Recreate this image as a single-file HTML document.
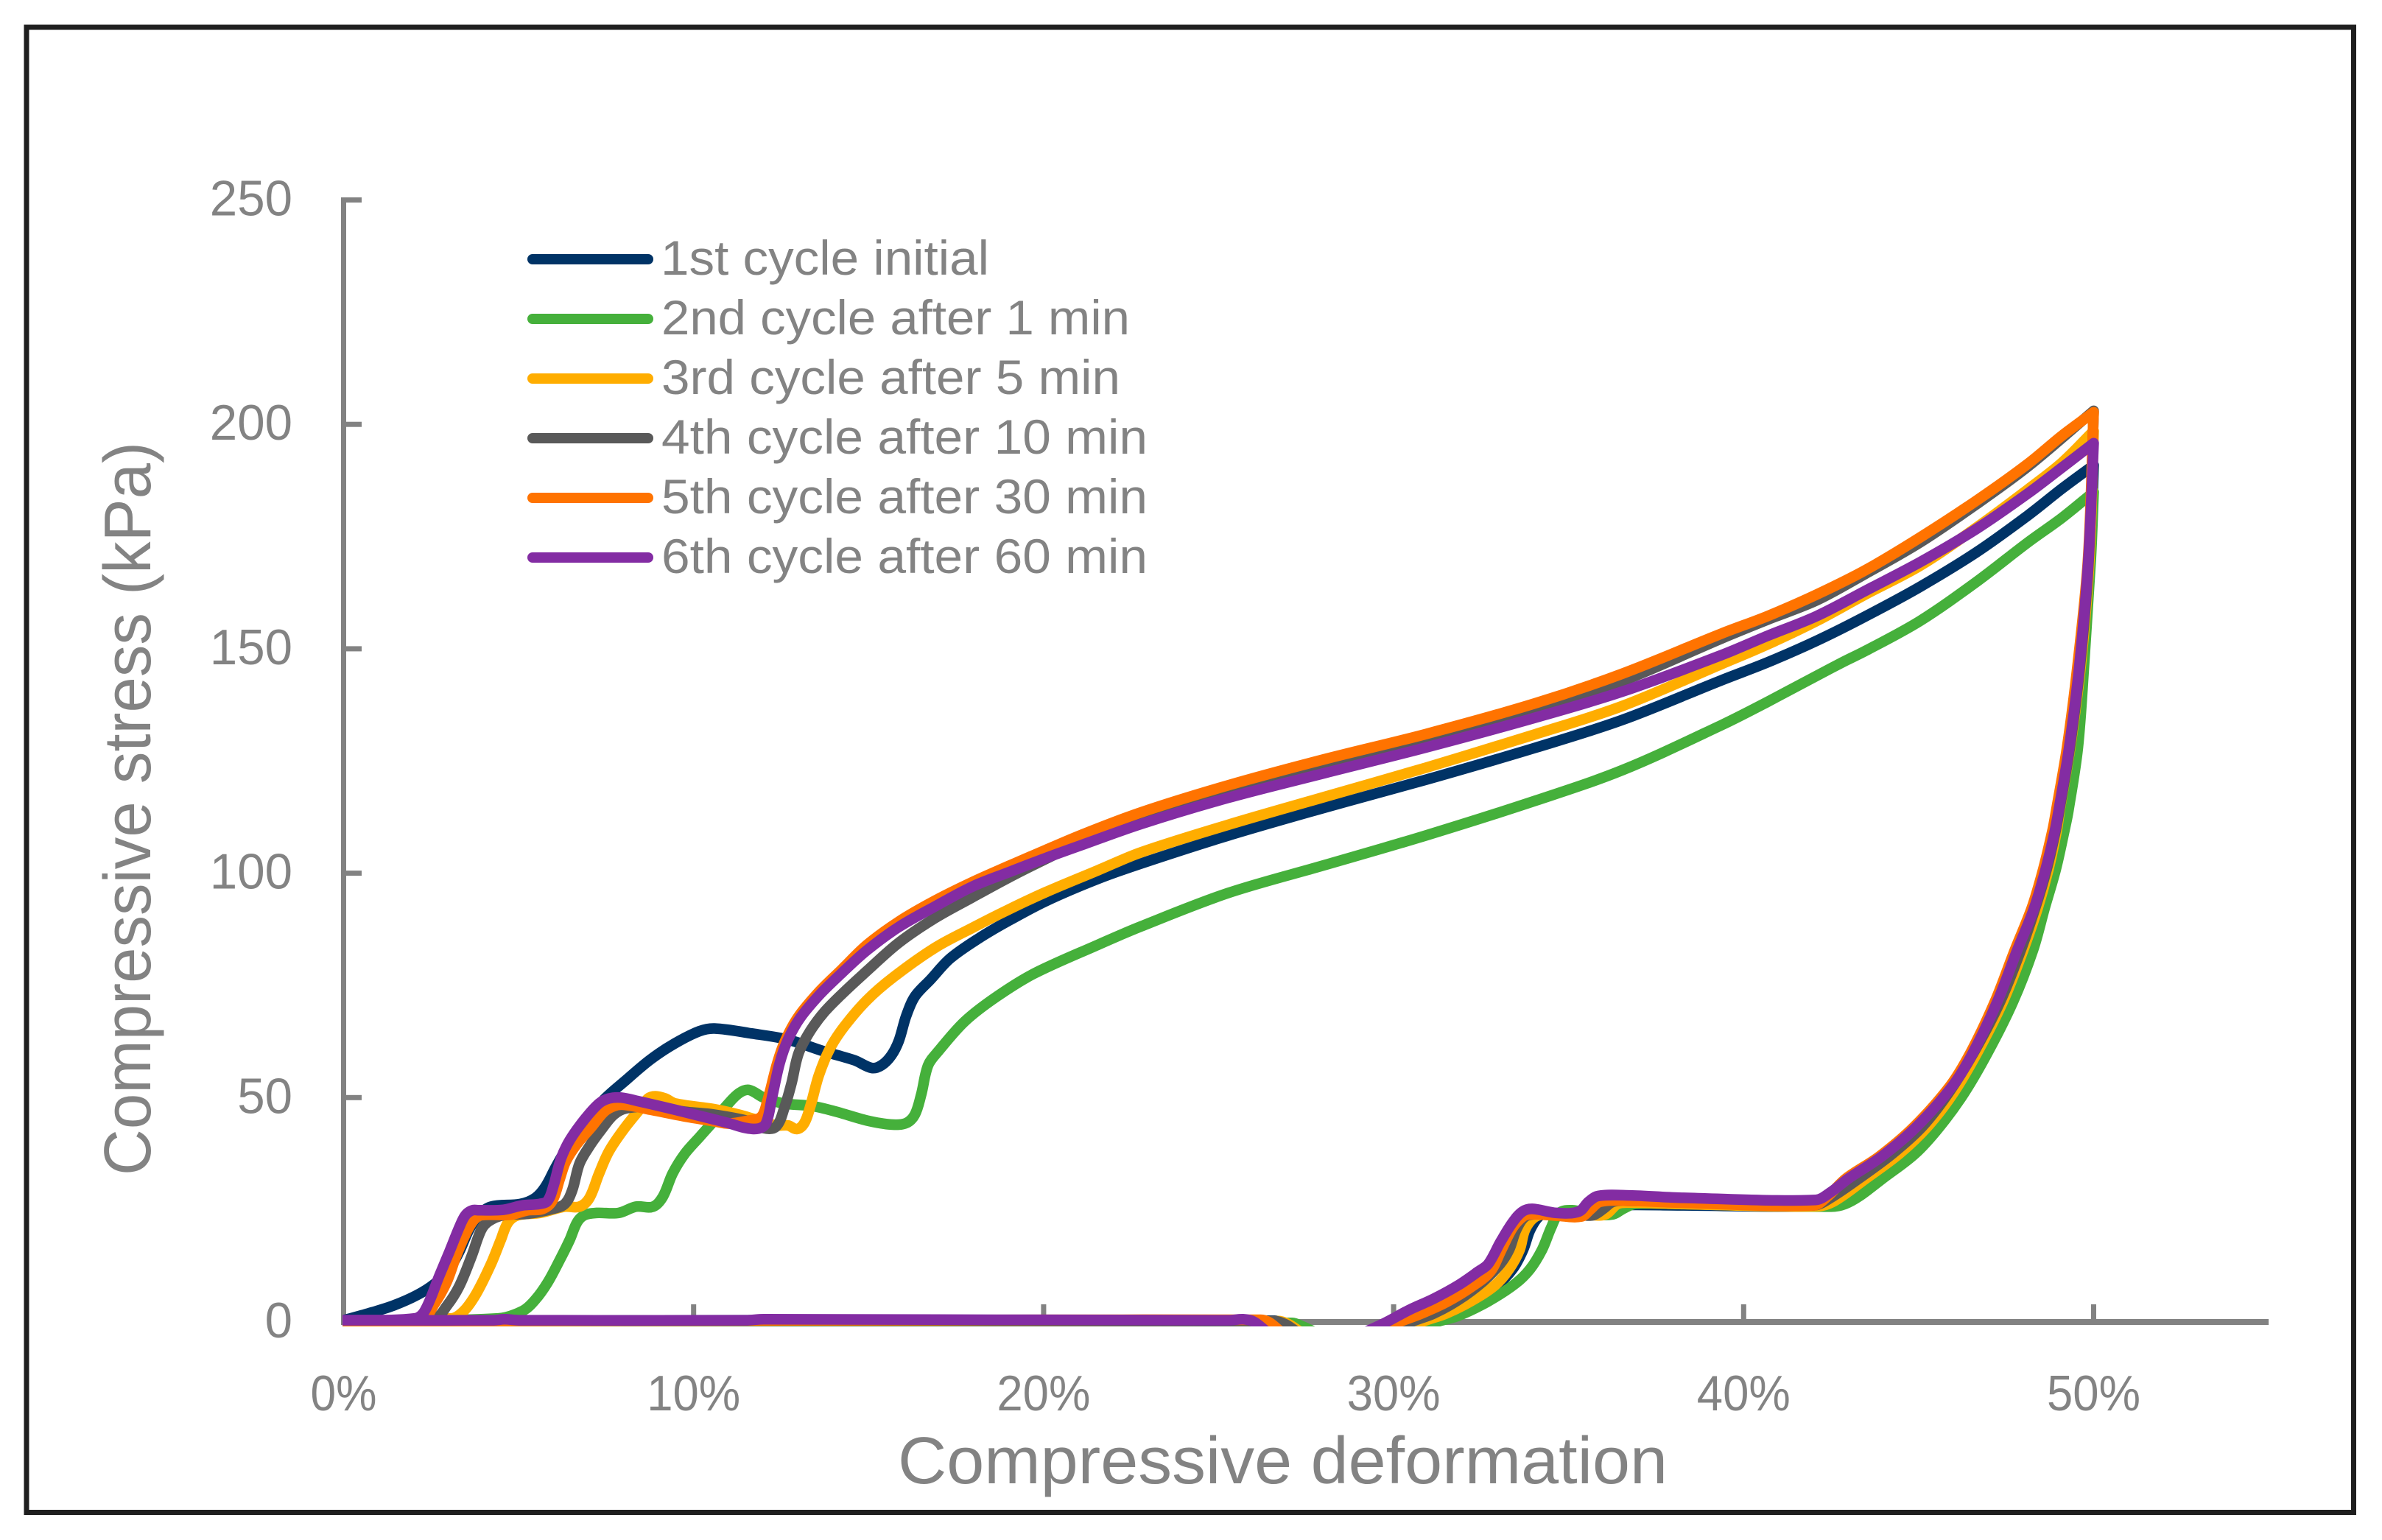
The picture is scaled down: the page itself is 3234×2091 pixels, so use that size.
<!DOCTYPE html>
<html lang="en">
<head>
<meta charset="utf-8">
<title>Compressive stress vs compressive deformation</title>
<style>
html,body{margin:0;padding:0;background:#fff;}
svg{display:block;}
text{font-family:"Liberation Sans",sans-serif;fill:#838383;}
</style>
</head>
<body>
<svg id="chart" xmlns="http://www.w3.org/2000/svg" width="3234" height="2091" viewBox="0 0 3234 2091">
  <rect x="0" y="0" width="3234" height="2091" fill="#ffffff"/>
  <rect x="36" y="37" width="3159.5" height="2016.5" fill="none" stroke="#1f1f1f" stroke-width="7"/>
  <defs>
    <clipPath id="plot-clip"><rect x="465" y="200" width="2640" height="1601"/></clipPath>
  </defs>
  <g id="axes"></g>
  <g id="series" clip-path="url(#plot-clip)"></g>

  <text transform="translate(204 1596) rotate(-90)" font-size="90" textLength="996" lengthAdjust="spacingAndGlyphs">Compressive stress (kPa)</text>
  <text x="1219" y="2014" font-size="90" textLength="1045" lengthAdjust="spacingAndGlyphs">Compressive deformation</text>

  <g>
    <g>
      <line x1="723" y1="352" x2="880" y2="352" stroke="#003366" stroke-width="14" stroke-linecap="round"/>
      <text x="897" y="373" font-size="66" textLength="446" lengthAdjust="spacingAndGlyphs">1st cycle initial</text>
    </g>
    <g>
      <line x1="723" y1="433" x2="880" y2="433" stroke="#45b03b" stroke-width="14" stroke-linecap="round"/>
      <text x="898" y="454" font-size="66" textLength="636" lengthAdjust="spacingAndGlyphs">2nd cycle after 1 min</text>
    </g>
    <g>
      <line x1="723" y1="514" x2="880" y2="514" stroke="#ffad00" stroke-width="14" stroke-linecap="round"/>
      <text x="898" y="535" font-size="66" textLength="623" lengthAdjust="spacingAndGlyphs">3rd cycle after 5 min</text>
    </g>
    <g>
      <line x1="723" y1="595" x2="880" y2="595" stroke="#595959" stroke-width="14" stroke-linecap="round"/>
      <text x="898" y="616" font-size="66" textLength="660" lengthAdjust="spacingAndGlyphs">4th cycle after 10 min</text>
    </g>
    <g>
      <line x1="723" y1="676" x2="880" y2="676" stroke="#ff7300" stroke-width="14" stroke-linecap="round"/>
      <text x="898" y="697" font-size="66" textLength="660" lengthAdjust="spacingAndGlyphs">5th cycle after 30 min</text>
    </g>
    <g>
      <line x1="723" y1="757" x2="880" y2="757" stroke="#832ca3" stroke-width="14" stroke-linecap="round"/>
      <text x="898" y="778" font-size="66" textLength="660" lengthAdjust="spacingAndGlyphs">6th cycle after 60 min</text>
    </g>
  </g>
</svg>
<script>
const xTickValues = [0, 10, 20, 30, 40, 50];
const xTickLabels = ['0%', '10%', '20%', '30%', '40%', '50%'];
const yTickValues = [0, 50, 100, 150, 200, 250];
const yTickLabels = ['0', '50', '100', '150', '200', '250'];

const cycle1Strain = [
  0,26.6,26.9,27.2,null,
  0,0.7,1.4,2.1,2.6,3.02,3.3,3.58,3.86,4.21,
  5.05,5.47,5.76,6.04,6.32,6.67,7.37,8.07,8.77,9.47,
  10.17,10.6,11.65,12.7,13.76,14.6,15.09,15.37,15.65,15.86,
  16.07,16.32,16.77,17.33,18.17,19,20.07,21.54,
  22.8,25.28,28.03,30.92,34.07,36.55,39.37,40.69,
  42.09,43.5,45.04,46.65,48.12,49.1,50,null,
  30.2,30.75,31.5,32.2,32.95,33.4,33.7,33.9,34.15,34.4,
  35.36,35.7,35.9,36.2,38.16,42.2,42.7,43.7,44.6,45.35,
  46.1,46.8,47.54,48.13,48.5,48.76,49,49.08,49.36,49.68,
  49.9,50];
const cycle1Stress = [
  0.3,0.3,-0.5,-2,null,
  0.4,1.9,3.6,6,8.5,11.8,15.6,20.5,23.8,25.7,
  26.3,27.6,30.1,34.2,38,41.9,49,53.9,58.5,62.1,
  64.8,65.4,64.3,62.9,60.2,58.3,56.6,57.2,59.4,62.6,
  68.1,72.5,76.3,81,85.6,89.4,93.8,98.7,
  102.2,108.4,114.6,120.8,128,134.2,143,147,
  151.8,157.3,163.8,171.5,179.7,185.7,190.9,null,
  -2.2,0,1.9,4.6,8.2,11.8,16.1,20.5,23.5,24.2,
  24,24,25.2,26,26,25.8,27,32,37.5,43.5,
  51,60.4,71.4,82.9,92.2,100.9,109.7,114,128,146.9,
  170,190.9];

const cycle2Strain = [
  0,27.1,27.4,27.68,null,
  0,4.42,5.12,5.47,5.83,6.18,6.46,6.67,6.88,7.23,
  7.86,8.35,8.84,9.12,9.4,9.75,10.18,10.6,10.95,11.3,
  11.58,12,12.56,13.4,14.1,14.95,15.65,16.07,16.32,16.5,
  16.7,17,17.75,18.66,19.72,21.54,
  22.8,25.28,28.03,30.92,34.07,36.55,39.37,40.69,
  42.8,43.5,45.04,46.65,48.12,49.1,50,null,
  30.65,31.15,31.85,32.7,33.47,33.9,34.24,34.5,34.73,35.1,
  35.7,36.27,36.55,36.9,38.16,42.5,42.9,43.3,43.98,44.9,
  45.6,46.3,47,47.7,48.27,48.6,48.92,49.17,49.28,49.55,
  49.73,49.92,50];
const cycle2Stress = [
  0.2,-0.2,-1,-2,null,
  0.2,0.8,2.5,4.9,8.8,13.9,18.3,22.2,23.8,24.3,
  24.3,25.7,25.7,27.9,33.1,37.5,41.3,45,48.3,51,
  51.7,50,48.7,48.1,46.8,44.9,44,44.3,46.2,50.6,
  57.2,60.4,67,72.5,77.6,84,
  88.2,95.6,101.8,108.4,116.2,123,133,138.2,
  146.9,149.6,156.2,164.9,173.7,179.2,184.9,null,
  -2.2,-0.2,1.4,4.6,8.5,11.8,16.1,21,24.3,24.9,
  24,24,25.2,26.3,26.3,25.7,26.3,28,32,37.5,
  43.5,51,60.4,71.4,82.9,92.2,100.9,109.7,114,128,
  146.9,170,184.9];

const cycle3Strain = [
  0,26.7,27,27.3,null,
  0,3.09,3.44,3.79,4.21,4.49,4.7,4.98,5.61,6.32,
  6.74,7.02,7.3,7.58,8,8.42,8.7,8.91,9.19,9.47,
  10.6,11.3,11.86,12.35,12.7,12.95,13.16,13.33,13.58,13.9,
  14.31,14.95,15.72,16.9,17.96,19,20.07,21.54,
  22.8,25.28,28.03,30.92,34.07,36.55,39.37,40.69,
  42.09,43.5,45.04,46.65,48.12,49.1,50,null,
  30.3,30.8,31.5,32.2,32.9,33.3,33.6,33.75,34,34.3,
  35.36,35.7,36.06,36.4,36.76,38.16,42.1,42.6,43.5,44.45,
  45.25,45.99,46.7,47.41,47.99,48.4,48.71,48.95,49.03,49.33,
  49.64,49.88,50];
const cycle3Stress = [
  0.2,0.2,-0.5,-2,null,
  0.2,0.8,2.5,6.3,12.9,18.3,22.2,23.8,24.3,25.7,
  25.7,27.6,33.1,38,42.9,47,49.8,50.3,49.8,48.7,
  47.4,46.2,44.9,43.8,43.8,43,44.3,47.9,55,61,
  65.9,71.7,76.9,83.4,87.8,91.9,95.8,100.6,
  104.7,110.8,117,123.5,131,137.3,146.6,151,
  156.2,162.2,168.5,177,185.5,191.5,198.5,null,
  -2.2,0,1.9,4.6,8.2,11.8,16.1,20.5,23.2,24,
  24,23.8,24,26.3,26.6,26.3,25.8,27,32,37.5,
  43.5,51,60.4,71.4,82.9,92.2,100.9,109.7,114,128,
  146.9,170,198.5];

const cycle4Strain = [
  0,26.6,26.9,27.2,null,
  0,2.6,2.95,3.3,3.65,3.93,4.14,4.56,5.26,5.97,
  6.32,6.53,6.74,7.02,7.37,7.72,8.07,8.77,9.82,10.6,
  11.65,11.99,12.35,12.6,12.8,13,13.33,13.75,14.31,14.95,
  15.86,16.9,17.96,19,20.07,21.1,
  22.8,25.28,28.03,30.92,34.07,36.55,39.37,40.69,
  42.09,43.5,45.04,46.65,48.12,50,null,
  30,30.5,31.15,31.85,32.55,33.04,33.3,33.5,33.76,34.1,
  34.66,35.36,35.7,35.99,36.27,36.76,38.16,42,42.45,43.3,
  44.25,45.1,45.85,46.6,47.33,47.92,48.33,48.66,48.92,49.02,
  49.32,49.62,49.86,50];
const cycle4Stress = [
  0.2,0.2,-0.5,-2,null,
  0.2,0.8,3.6,7.9,14.5,20.5,22.4,23.8,24.1,25.2,
  26.3,29.3,35.3,39.1,42.9,46.2,47.6,47.9,46.8,46.2,
  44.6,43.2,43.5,47.9,53.3,59.9,64.8,69.2,73.6,78.2,
  84.5,90,94.6,99,103.2,107,
  112.5,118.4,123.8,129.8,136.7,142.9,152.3,156.5,
  160.8,166.8,173.7,182.2,190.6,203,null,
  -2.2,0,1.9,4.9,9,12.9,16.1,20.5,23.5,24,
  23.8,23.8,23.8,25.2,26.8,27,26.8,26,27.5,32,
  37.5,43.5,51,60.4,71.4,82.9,92.2,100.9,109.7,114,
  128,146.9,170,203];

const cycle5Strain = [
  0,26.2,26.45,26.75,null,
  0,2.25,2.6,2.95,3.23,3.51,3.72,3.93,4.77,5.26,
  5.69,5.97,6.18,6.35,6.67,7.09,7.44,7.72,8,8.77,
  9.82,10.6,11,11.58,11.93,12.1,12.39,12.63,12.99,13.61,
  14.24,14.95,15.86,16.9,17.96,19,20.07,21.1,
  22.8,25.28,28.03,30.92,34.07,36.55,39.37,40.69,
  42.09,43.5,45.04,46.65,48.12,49.1,50,null,
  29.6,30.1,30.8,31.5,32.2,32.76,33.08,33.4,33.7,33.9,
  34.66,35.36,35.64,35.9,36.76,38.16,42,42.4,42.93,43.88,
  44.87,45.92,46.51,47.18,47.75,48.23,48.56,48.83,48.93,49.24,
  49.55,49.84,50];
const cycle5Stress = [
  0.15,0.5,-0.1,-2,null,
  0.2,0.8,4.1,9,15,20,22.7,23.8,23.9,24.9,
  25.2,27.1,32,35.8,39.7,43.5,46.8,48.1,48.4,47.3,
  45.7,44.7,44.2,44.9,45.7,49,57.7,62.9,68,73.8,
  78.6,84,89.2,93.9,98,101.6,105.2,108.6,
  113.6,119.6,125.4,131,137.9,144.5,153.4,157.3,
  162.1,167.6,174.8,183,191.2,197.5,202.7,null,
  -2.2,-0.2,1.9,4.4,7.7,11.2,16.1,21,23.5,24,
  23.7,23.5,25.2,26.8,27,26.6,26,28,32,36.9,
  43.5,52.8,60.4,71.4,82.9,92.2,100.9,109.7,114,128,
  146.9,170,202.7];

const cycle6Strain = [
  0,4.3,4.6,5,11.5,12,25.3,25.7,26,26.35,null,
  0,2.04,2.32,2.74,3.02,3.3,3.48,3.68,3.86,4.56,
  5.12,5.6,5.83,6,6.21,6.46,6.88,7.3,7.58,7.93,
  8.42,9.47,10.6,11,11.5,11.86,12.07,12.24,12.46,12.7,
  13.05,13.61,14.24,14.95,15.86,16.9,17.96,19,20.07,21.1,
  22.8,25.28,28.03,30.92,34.07,36.55,39.37,40.69,
  42.09,43.5,45.04,46.65,48.12,49.1,50,null,
  29.2,29.75,30.45,31.15,31.85,32.41,32.7,33.05,33.4,33.68,
  33.96,34.66,35.29,35.57,35.85,36.76,38.16,42.06,42.5,43,
  43.95,44.94,45.99,46.58,47.25,47.82,48.3,48.63,48.9,49,49.3,
  49.6,49.85,50];
const cycle6Stress = [
  0.4,0.4,0.6,0.4,0.4,0.6,0.4,0.6,0.1,-2,null,
  0.4,0.8,2.5,10.4,15.6,21,23.8,24.9,24.9,25,
  26,26.3,27,30.4,36.4,40.5,45.1,48.7,49.8,50,
  49.2,47.3,45.1,44.3,43.2,43.1,44.3,50,57.7,63,
  67.8,73,77.8,82.8,88,92.6,97,100.2,103.4,106.3,
  111,116.8,122.3,128,134.7,140.5,148.6,152.9,
  157.3,163,169.3,176.7,184.6,190.4,195.8,null,
  -2.2,-0.2,2.7,5.2,8.2,11.2,12.9,17.8,22.2,24.6,
  25.2,24.3,24.6,26.8,28.1,28.2,27.7,27.2,29,32,
  36.9,43.5,52.8,60.4,71.4,82.9,92.2,100.9,109.7,114,128,
  146.9,170,195.8];

const seriesColors = ['#003366', '#45b03b', '#ffad00', '#595959', '#ff7300', '#832ca3'];

const SVGNS = 'http://www.w3.org/2000/svg';
function xScale(v) { return 466.5 + v * 47.52; }
function yScale(v) { return 1795 - v * 6.094; }

const axesGroup = document.getElementById('axes');
const seriesGroup = document.getElementById('series');

function addRect(x, y, w, h, name) {
  const r = document.createElementNS(SVGNS, 'rect');
  r.setAttribute('x', x);
  r.setAttribute('y', y);
  r.setAttribute('width', w);
  r.setAttribute('height', h);
  r.setAttribute('fill', '#828282');
  
  
  axesGroup.appendChild(r);
}

function addLabel(x, y, anchor, str, len, name) {
  const t = document.createElementNS(SVGNS, 'text');
  t.setAttribute('x', x);
  t.setAttribute('y', y);
  t.setAttribute('font-size', '68');
  t.setAttribute('text-anchor', anchor);
  t.setAttribute('textLength', len);
  t.setAttribute('lengthAdjust', 'spacingAndGlyphs');
  t.textContent = str;
  
  
  axesGroup.appendChild(t);
}

addRect(463, 268, 7, 1527, 'y-axis-line');
addRect(463, 1791, xScale(55) - 463, 8, 'x-axis-line');

xTickValues.forEach(function (v, i) {
  addRect(xScale(v) - 3.5, 1771, 7, 20, 'x-axis-tick');
  const lab = xTickLabels[i];
  addLabel(xScale(v), 1915, 'middle', lab, lab.length === 2 ? 90 : 127, 'x-axis-tick-label');
});

yTickValues.forEach(function (v, i) {
  addRect(470, yScale(v) - 3.5, 21, 7, 'y-axis-tick');
  const lab = yTickLabels[i];
  addLabel(397, yScale(v) + 21, 'end', lab, lab.length * 37.4, 'y-axis-tick-label');
});

function smoothPath(pts) {
  let d = 'M' + pts[0][0].toFixed(1) + ' ' + pts[0][1].toFixed(1);
  function tangent(i) {
    const a = pts[Math.max(0, i - 1)];
    const b = pts[Math.min(pts.length - 1, i + 1)];
    const dx = b[0] - a[0];
    const dy = b[1] - a[1];
    const m = Math.hypot(dx, dy) || 1;
    return [dx / m, dy / m];
  }
  for (let i = 0; i < pts.length - 1; i++) {
    const p = pts[i];
    const q = pts[i + 1];
    const len = Math.hypot(q[0] - p[0], q[1] - p[1]) / 3;
    const t0 = tangent(i);
    const t1 = tangent(i + 1);
    d += 'C' + (p[0] + t0[0] * len).toFixed(1) + ' ' + (p[1] + t0[1] * len).toFixed(1) + ' ' +
      (q[0] - t1[0] * len).toFixed(1) + ' ' + (q[1] - t1[1] * len).toFixed(1) + ' ' +
      q[0].toFixed(1) + ' ' + q[1].toFixed(1);
  }
  return d;
}

function drawSeries(strain, stress, color, name) {
  let d = '';
  let run = [];
  for (let i = 0; i <= strain.length; i++) {
    if (i === strain.length || strain[i] === null) {
      if (run.length > 1) d += smoothPath(run);
      run = [];
    } else {
      run.push([xScale(strain[i]), yScale(stress[i])]);
    }
  }
  const p = document.createElementNS(SVGNS, 'path');
  p.setAttribute('d', d);
  p.setAttribute('fill', 'none');
  p.setAttribute('stroke', color);
  p.setAttribute('stroke-width', '14.5');
  p.setAttribute('stroke-linejoin', 'round');
  p.setAttribute('stroke-linecap', 'round');
  
  
  seriesGroup.appendChild(p);
}

drawSeries(cycle1Strain, cycle1Stress, seriesColors[0], 'series-1st-cycle');
drawSeries(cycle2Strain, cycle2Stress, seriesColors[1], 'series-2nd-cycle');
drawSeries(cycle3Strain, cycle3Stress, seriesColors[2], 'series-3rd-cycle');
drawSeries(cycle4Strain, cycle4Stress, seriesColors[3], 'series-4th-cycle');
drawSeries(cycle5Strain, cycle5Stress, seriesColors[4], 'series-5th-cycle');
drawSeries(cycle6Strain, cycle6Stress, seriesColors[5], 'series-6th-cycle');
</script>
</body>
</html>
